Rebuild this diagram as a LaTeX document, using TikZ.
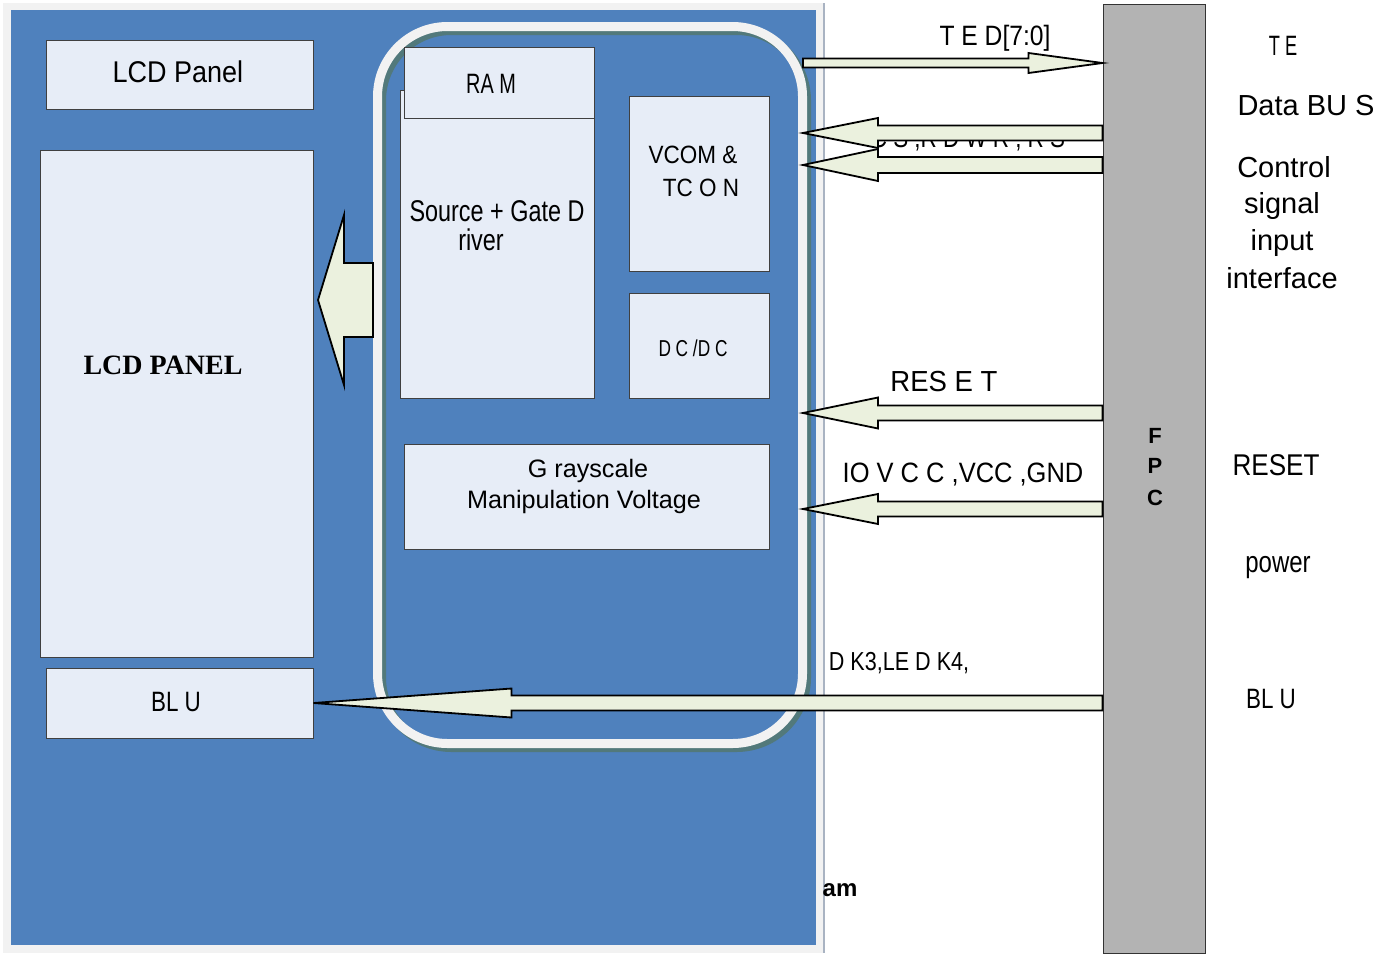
\documentclass[tikz,border=0pt]{standalone}
\usepackage{fontspec}
\setmainfont{Liberation Sans}
\newfontfamily\serifbold{Liberation Serif}
\usetikzlibrary{calc}

\definecolor{panelblue}{HTML}{4F81BD}
\definecolor{boxfill}{HTML}{E7EDF7}
\definecolor{arrowfill}{HTML}{EBF1DE}
\definecolor{fpcgray}{HTML}{B3B3B3}
\definecolor{framegray}{HTML}{F2F2F2}
\definecolor{shadowgreen}{HTML}{52797B}
\definecolor{edgegray}{HTML}{A9B3C2}

\newcommand{\fsz}[1]{\fontsize{#1}{#1}\selectfont}
\newcommand{\narrowed}[2]{\scalebox{#1}[1]{#2}}
% fat block arrow: from, tip, head offset, shaft half, head half
\newcommand{\fatarrow}[5]{%
  \draw[fatarr]
    ($(#1)+(0,#4)$) -- ($(#2)+(#3,#4)$) -- ($(#2)+(#3,#5)$) -- (#2)
      -- ($(#2)+(#3,-#5)$) -- ($(#2)+(#3,-#4)$) -- ($(#1)+(0,-#4)$) -- cycle;}

\begin{document}
\begin{tikzpicture}[x=.5pt, y=-.5pt,
  box/.style={draw=black!75, line width=.5pt, fill=boxfill, inner sep=0pt},
  fatarr/.style={draw=black, line width=.9pt, fill=arrowfill},
  lbl/.style={anchor=base, inner sep=0pt}]

\useasboundingbox (0,0) rectangle (1400,953);

% module panel
\fill[framegray] (3,3) rectangle (823,953);
\draw[edgegray, line width=1pt] (824,3) -- (824,953);
\fill[panelblue] (11,10) rectangle (816,945);

% driver IC
\draw[shadowgreen, line width=4.5pt, rounded corners=35pt]
  (381.5,30.5) rectangle (806.5,747.5);
\draw[framegray, line width=4.5pt, rounded corners=35pt]
  (377.5,26.5) rectangle (802.5,743.5);

\node[box, minimum width=133.5pt, minimum height=34.5pt] (lcd-top) at (179.5,74.5) {};
\node[lbl, font=\fsz{15}] (lcd-top-1) at (178,82) {\narrowed{.9}{LCD Panel}};
\node[box, minimum width=136.5pt, minimum height=253.5pt]
  (lcd) at (176.5,403.5) {};
\node[lbl, font=\serifbold\fsz{14}\bfseries] (lcd-name) at (163,374) {LCD PANEL};
\node[box, minimum width=133.5pt, minimum height=35pt] (blu) at (179.5,703) {};
\node[lbl, font=\fsz{14}] (blu-1) at (176,711) {\narrowed{.8}{BL U}};

\node[box, minimum width=97pt, minimum height=154pt] (drv) at (497,244) {};
\node[box, minimum width=95pt, minimum height=35.5pt] (ram) at (499,82.5) {};
\node[lbl, font=\fsz{14}] (ram-1) at (491,93) {\narrowed{.71}{RA M}};
\node[lbl, font=\fsz{15}] (drv-1) at (497,221) {\narrowed{.78}{Source + Gate D}};
\node[lbl, font=\fsz{15}] (drv-2) at (481,250) {\narrowed{.78}{river}};

\node[box, minimum width=70pt, minimum height=87.5pt] (tcon) at (699,183.5) {};
\node[lbl, font=\fsz{12.5}] (tcon-1) at (693,163) {\narrowed{.9}{VCOM \&}};
\node[lbl, font=\fsz{12.5}] (tcon-2) at (701,196) {\narrowed{.9}{TC O N}};

\node[box, minimum width=70pt, minimum height=52.5pt] (dcdc) at (699,345.5) {};
\node[lbl, font=\fsz{11.5}] (dcdc-1) at (693,356) {\narrowed{.75}{D C /D C}};

\node[box, minimum width=182.5pt, minimum height=52.5pt] (gray) at (586.5,496.5) {};
\node[lbl, font=\fsz{12.6}] (gray-1) at (588,477) {G rayscale};
\node[lbl, font=\fsz{12.6}] (gray-2) at (584,508) {Manipulation Voltage};

% FPC
\node[draw=black!80, line width=.5pt, fill=fpcgray, inner sep=0pt,
  minimum width=51pt, minimum height=474.5pt] (fpc) at (1154,478.5) {};
\node[lbl, font=\fsz{11}\bfseries] (fpc-f) at (1155,443) {F};
\node[lbl, font=\fsz{11}\bfseries] (fpc-p) at (1155,473) {P};
\node[lbl, font=\fsz{11}\bfseries] (fpc-c) at (1155,505) {C};

% signals
\node[lbl, font=\fsz{14}] (ctl-lbl) at (968,147) {\narrowed{.8}{C S ,R D  W R , R S}};

\coordinate (ted-end) at (803,63);
\coordinate (ctl-a) at (803,133);
\coordinate (ctl-b) at (803,165);
\coordinate (rst-end) at (803,413);
\coordinate (pwr-end) at (803,509);
\coordinate (drv-out) at (373,300);
\coordinate (drv-tip) at (318,300);

\fatarrow{ted-end}{fpc.west |- ted-end}{-74}{4.5}{10}
\fatarrow{fpc.west |- ctl-a}{ctl-a}{75}{7.5}{15}
\fatarrow{fpc.west |- ctl-b}{ctl-b}{75}{8}{16}
\fatarrow{fpc.west |- rst-end}{rst-end}{75}{7.5}{15.5}
\fatarrow{fpc.west |- pwr-end}{pwr-end}{75}{7.5}{15}
\fatarrow{fpc.west |- blu.east}{blu.east}{198}{7.5}{14.5}
\fatarrow{drv-out}{drv-tip}{26}{37}{85}

\node[lbl, font=\fsz{14}] (ted-lbl) at (995,45) {\narrowed{.88}{T E D[7:0]}};
\node[lbl, font=\fsz{14.5}] (rst-lbl) at (944,391) {\narrowed{.95}{RES E T}};
\node[lbl, font=\fsz{14}] (pwr-lbl) at (963,482) {\narrowed{.91}{IO V C C ,VCC ,GND}};
\node[lbl, font=\fsz{13}] (bl-lbl) at (899,670) {\narrowed{.83}{D K3,LE D K4,}};
\node[lbl, font=\fsz{12}\bfseries] (title-end) at (840,896) {am};

% FPC pin groups
\node[lbl, font=\fsz{14}] (te) at (1283,55) {\narrowed{.65}{T E}};
\node[lbl, font=\fsz{14.5}] (bus) at (1306,115) {Data BU S};
\node[lbl, font=\fsz{14.5}] (ctl-1) at (1284,177) {Control};
\node[lbl, font=\fsz{14.5}] (ctl-2) at (1282,213) {signal};
\node[lbl, font=\fsz{14.5}] (ctl-3) at (1282,250) {input};
\node[lbl, font=\fsz{14.5}] (ctl-4) at (1282,288) {interface};
\node[lbl, font=\fsz{15}] (rst) at (1276,475) {\narrowed{.87}{RESET}};
\node[lbl, font=\fsz{15}] (pwr) at (1278,572) {\narrowed{.8}{power}};
\node[lbl, font=\fsz{14}] (bl) at (1271,708) {\narrowed{.8}{BL U}};

\end{tikzpicture}
\end{document}
